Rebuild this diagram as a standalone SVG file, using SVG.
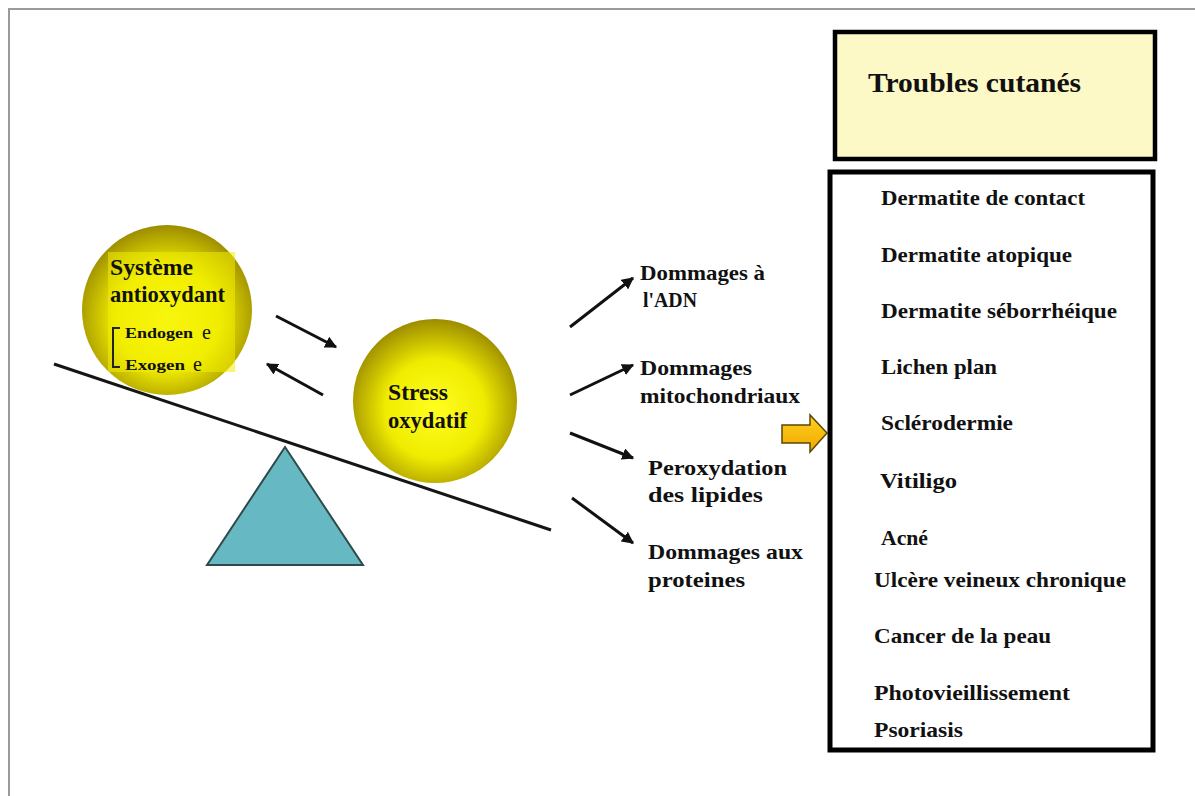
<svg xmlns="http://www.w3.org/2000/svg" width="1195" height="796" viewBox="0 0 1195 796">
<style>
.t{font-family:"Liberation Serif","Times New Roman",serif;font-weight:bold;fill:#111;}
.lbl{font-size:22px;}
.item{font-size:21.5px;}
.arr{stroke:#111;stroke-width:3;fill:none;marker-end:url(#ah);}
</style>
<defs>
<radialGradient id="ball" cx="50%" cy="55%" r="55%">
<stop offset="0" stop-color="#ffff20"/>
<stop offset="0.55" stop-color="#f0ec00"/>
<stop offset="1" stop-color="#9c8c00"/>
</radialGradient>
<linearGradient id="og" x1="0" y1="0" x2="0" y2="1">
<stop offset="0" stop-color="#ffd020"/>
<stop offset="1" stop-color="#f0a800"/>
</linearGradient>
<marker id="ah" viewBox="0 0 10 10" refX="9" refY="5" markerWidth="4" markerHeight="4" orient="auto" markerUnits="strokeWidth">
<path d="M0,0 L10,5 L0,10 z" fill="#111"/>
</marker>
</defs>
<rect width="1195" height="796" fill="#fff"/>
<g id="frame"><path d="M9,796 L9,9 L1195,9" fill="none" stroke="#9a9a9a" stroke-width="2"/></g>

<g id="fulcrum"><polygon points="285,447 207,565 363,565" fill="#66b9c2" stroke="#2f4a4a" stroke-width="2"/></g>
<g id="beam"><line x1="54" y1="364" x2="551" y2="530" stroke="#151515" stroke-width="3"/></g>

<g id="antioxydant">
<circle cx="167" cy="310" r="85" fill="url(#ball)"/>
<rect x="108" y="252" width="127" height="120" fill="#f2ee00" opacity="0.55"/>
<text class="t" x="110" y="275" font-size="23" textLength="83" lengthAdjust="spacingAndGlyphs">Système</text>
<text class="t" x="110" y="302" font-size="22.5" textLength="115" lengthAdjust="spacingAndGlyphs">antioxydant</text>
<path d="M120,328 L113,328 L113,367 L120,367" fill="none" stroke="#222" stroke-width="2"/>
<text class="t" x="125" y="338" font-size="15" textLength="68" lengthAdjust="spacingAndGlyphs">Endogen</text>
<text x="202" y="339" font-family="Liberation Serif,serif" font-size="20" fill="#111">e</text>
<text class="t" x="125" y="370" font-size="15" textLength="60" lengthAdjust="spacingAndGlyphs">Exogen</text>
<text x="193" y="371" font-family="Liberation Serif,serif" font-size="20" fill="#111">e</text>
</g>

<g id="stress">
<circle cx="435" cy="401" r="82" fill="url(#ball)"/>
<text class="t" x="388" y="400" font-size="23" textLength="60" lengthAdjust="spacingAndGlyphs">Stress</text>
<text class="t" x="388" y="428" font-size="22.5" textLength="79" lengthAdjust="spacingAndGlyphs">oxydatif</text>
</g>

<g id="connectors">
<line class="arr" x1="276" y1="316" x2="336" y2="347"/>
<line class="arr" x1="323" y1="395" x2="267" y2="364"/>
<line class="arr" x1="570" y1="327" x2="633" y2="278"/>
<line class="arr" x1="570" y1="395" x2="633" y2="365"/>
<line class="arr" x1="570" y1="433" x2="633" y2="458"/>
<line class="arr" x1="572" y1="498" x2="633" y2="543"/>
</g>

<g id="dommages-adn">
<text class="t lbl" x="640" y="280" textLength="125" lengthAdjust="spacingAndGlyphs">Dommages à</text>
<text class="t lbl" x="643" y="307" textLength="54" lengthAdjust="spacingAndGlyphs">l'ADN</text>
</g>
<g id="dommages-mito">
<text class="t lbl" x="640" y="375" textLength="112" lengthAdjust="spacingAndGlyphs">Dommages</text>
<text class="t lbl" x="640" y="403" textLength="160" lengthAdjust="spacingAndGlyphs">mitochondriaux</text>
</g>
<g id="peroxydation">
<text class="t lbl" x="648" y="475" textLength="139" lengthAdjust="spacingAndGlyphs">Peroxydation</text>
<text class="t lbl" x="648" y="502" textLength="115" lengthAdjust="spacingAndGlyphs">des lipides</text>
</g>
<g id="dommages-proteines">
<text class="t lbl" x="648" y="559" textLength="155" lengthAdjust="spacingAndGlyphs">Dommages aux</text>
<text class="t lbl" x="648" y="587" textLength="97" lengthAdjust="spacingAndGlyphs">proteines</text>
</g>

<g id="orange-arrow">
<polygon points="782,425 810,425 810,415 827,433 810,452 810,443 782,443" fill="url(#og)" stroke="#5a4800" stroke-width="1.5"/>
</g>

<g id="troubles-cutanes">
<rect x="835" y="32" width="320" height="127" fill="#fdf9c6" stroke="#000" stroke-width="4.5"/>
<text class="t" x="868" y="92" font-size="28" textLength="213" lengthAdjust="spacingAndGlyphs">Troubles cutanés</text>
</g>

<g id="liste">
<rect x="830" y="172" width="323" height="578" fill="#fff" stroke="#000" stroke-width="5"/>
<text class="t item" x="881" y="205" textLength="204" lengthAdjust="spacingAndGlyphs">Dermatite de contact</text>
<text class="t item" x="881" y="262" textLength="191" lengthAdjust="spacingAndGlyphs">Dermatite atopique</text>
<text class="t item" x="881" y="318" textLength="236" lengthAdjust="spacingAndGlyphs">Dermatite séborrhéique</text>
<text class="t item" x="881" y="374" textLength="116" lengthAdjust="spacingAndGlyphs">Lichen plan</text>
<text class="t item" x="881" y="430" textLength="132" lengthAdjust="spacingAndGlyphs">Sclérodermie</text>
<text class="t item" x="880" y="488" textLength="77" lengthAdjust="spacingAndGlyphs">Vitiligo</text>
<text class="t item" x="881" y="545" textLength="47" lengthAdjust="spacingAndGlyphs">Acné</text>
<text class="t item" x="874" y="587" textLength="252" lengthAdjust="spacingAndGlyphs">Ulcère veineux chronique</text>
<text class="t item" x="874" y="643" textLength="177" lengthAdjust="spacingAndGlyphs">Cancer de la peau</text>
<text class="t item" x="874" y="700" textLength="196" lengthAdjust="spacingAndGlyphs">Photovieillissement</text>
<text class="t item" x="874" y="737" textLength="89" lengthAdjust="spacingAndGlyphs">Psoriasis</text>
</g>
</svg>
